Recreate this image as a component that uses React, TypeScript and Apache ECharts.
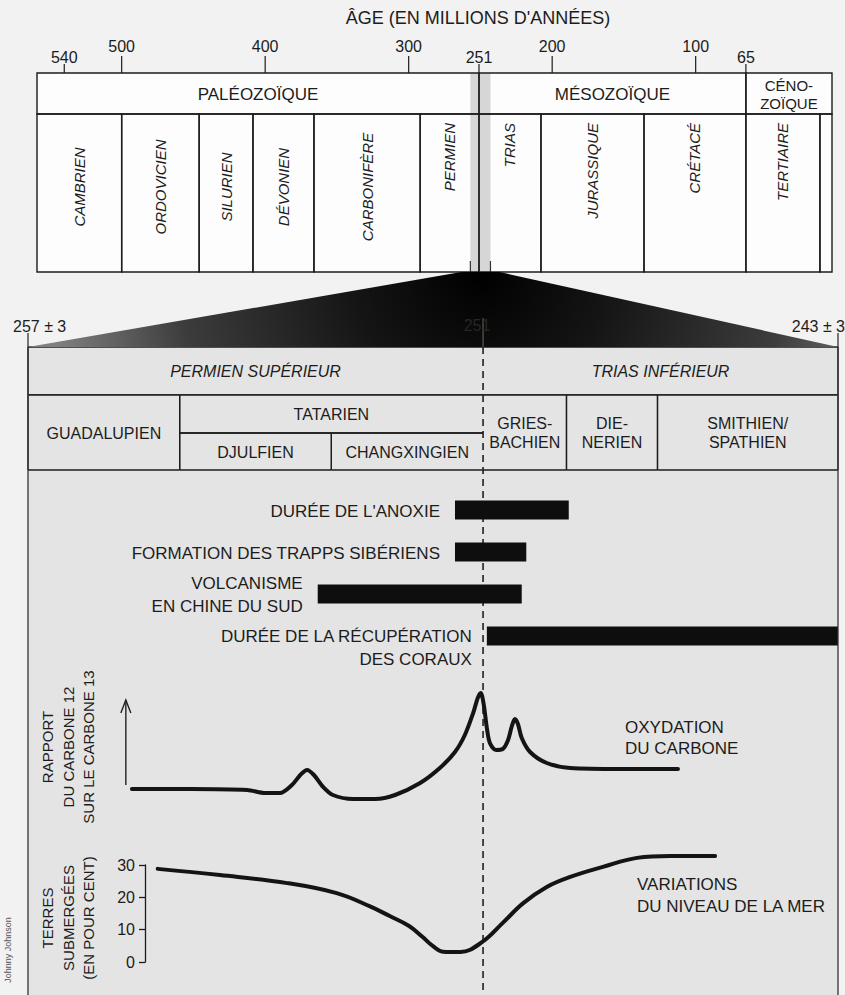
import React, { useEffect, useRef } from 'react';
import * as echarts from 'echarts';

const FONT = "'Liberation Sans', Arial, Helvetica, sans-serif";
const INK = '#1c1c1c';

// ---------- top geological time scale (ages in millions of years) ----------
const majorTicks = [500, 400, 300, 200, 100];
const minorTicks = [540, 251, 65];
const eraNames = ['PALÉOZOÏQUE', 'MÉSOZOÏQUE', 'CÉNO-\nZOÏQUE'];
const eraStart = [559, 251, 65];
const eraEnd = [251, 65, 5];
const periodNames = ['CAMBRIEN', 'ORDOVICIEN', 'SILURIEN', 'DÉVONIEN', 'CARBONIFÈRE', 'PERMIEN', 'TRIAS', 'JURASSIQUE', 'CRÉTACÉ', 'TERTIAIRE', ''];
const periodStart = [559, 500, 446, 408.5, 366, 292, 251, 207.8, 136, 65, 13.4];
const periodEnd = [500, 446, 408.5, 366, 292, 251, 207.8, 136, 65, 13.4, 5];
const zoomWindow = [257, 243];

// ---------- zoomed Permian / Triassic interval ----------
const stageNames = ['PERMIEN SUPÉRIEUR', 'TRIAS INFÉRIEUR', 'GUADALUPIEN', 'TATARIEN', 'DJULFIEN', 'CHANGXINGIEN', 'GRIES-\nBACHIEN', 'DIE-\nNERIEN', 'SMITHIEN/\nSPATHIEN'];
const stageStart = [257, 251, 257, 255, 255, 253, 251, 249.9, 248.7];
const stageEnd = [251, 246.32, 255, 251, 253, 251, 249.9, 248.7, 246.32];
const stageRow = [0, 0, 1, 2, 3, 3, 1, 1, 1];
const boundaryAge = 251;

const barLabels = ["DURÉE DE L'ANOXIE", 'FORMATION DES TRAPPS SIBÉRIENS', 'VOLCANISME\nEN CHINE DU SUD', 'DURÉE DE LA RÉCUPÉRATION\nDES CORAUX'];
const barStart = [251.37, 251.37, 253.18, 250.95];
const barEnd = [249.87, 250.43, 250.49, 246.32];

const carbonAge = [255.63, 254.86, 254.11, 253.87, 253.68, 253.52, 253.41, 253.32, 253.23, 253.12, 252.98, 252.71, 252.42, 252.16, 251.83, 251.57, 251.37, 251.24, 251.13, 251.07, 251.03, 250.99, 250.95, 250.91, 250.83, 250.74, 250.67, 250.62, 250.58, 250.54, 250.49, 250.38, 250.16, 249.85, 249.19, 248.43];
const carbonValue = [2.1, 2.1, 2.0, 1.7, 1.7, 2.5, 3.5, 4.0, 3.5, 2.4, 1.5, 1.1, 1.1, 1.5, 2.7, 4.2, 5.8, 7.5, 9.7, 11.2, 11.7, 10.5, 8.2, 6.7, 6.0, 6.1, 7.0, 8.4, 9.1, 8.6, 7.2, 5.8, 4.7, 4.2, 4.1, 4.1];

const seaAge = [255.29, 254.47, 253.58, 252.93, 252.49, 252.23, 251.98, 251.80, 251.66, 251.53, 251.30, 251.01, 250.74, 250.47, 250.16, 249.85, 249.42, 248.97, 248.53, 247.94];
const seaValue = [28.8, 26.9, 24.4, 21.3, 17.2, 14.2, 11.2, 7.8, 4.9, 3.2, 3.1, 6.2, 12.1, 18.2, 23.2, 26.3, 29.4, 32.2, 32.8, 32.8];
const seaTickMax = 30;
const seaTickStep = 10;

const TOP_MIN = 5, TOP_MAX = 559;
const LOW_MIN = 246.32, LOW_MAX = 257;
const carbonAxisAge = 255.71;
const carbonArrow = [2.5, 11];

const ERA_SPLIT = 0.794;
const ROWS = [[0, 0.39], [0.39, 1], [0.39, 0.699], [0.699, 1]];

const txt = (size: number, extra: any = {}) => ({ fontSize: size, fontFamily: FONT, fill: INK, ...extra });

export default function App() {
  const ref = useRef<HTMLDivElement>(null);
  useEffect(() => {
    document.body.style.margin = '0';
    const chart = echarts.init(ref.current!, null, { renderer: 'svg' });
    const lowX = (gridIndex: number) => ({ gridIndex, type: 'value', min: LOW_MIN, max: LOW_MAX, inverse: true, show: false });

    const option: any = {
      animation: false,
      backgroundColor: '#f2f2f2',
      grid: [
        { left: 37, top: 73, width: 795, height: 199 },
        { left: 28, top: 347, width: 810, height: 123 },
        { left: 28, top: 489, width: 810, height: 168 },
        { left: 28, top: 690, width: 810, height: 120 },
        { left: 28, top: 865, width: 810, height: 97 },
      ],
      xAxis: [
        {
          gridIndex: 0, type: 'value', min: TOP_MIN, max: TOP_MAX, inverse: true, position: 'top',
          axisLine: { show: false }, splitLine: { show: false }, axisTick: { show: false }, minorTick: { show: false },
          axisLabel: { customValues: majorTicks, margin: 19, fontSize: 16, fontFamily: FONT, color: INK },
        },
        {
          gridIndex: 0, type: 'value', min: TOP_MIN, max: TOP_MAX, inverse: true, position: 'top',
          axisLine: { show: false }, splitLine: { show: false }, axisTick: { show: false }, minorTick: { show: false },
          axisLabel: { customValues: minorTicks, margin: 8, fontSize: 16, fontFamily: FONT, color: INK },
        },
        lowX(1), lowX(2), lowX(3), lowX(4),
      ],
      yAxis: [
        { gridIndex: 0, type: 'value', min: 0, max: 1, show: false },
        { gridIndex: 1, type: 'value', min: 0, max: 1, inverse: true, show: false },
        { gridIndex: 2, type: 'category', data: barLabels, inverse: true, show: false },
        { gridIndex: 3, type: 'value', min: 0, max: 12, show: false },
        {
          gridIndex: 4, type: 'value', min: 0, max: seaTickMax, interval: seaTickStep, offset: -117,
          axisLine: { show: true, lineStyle: { color: INK, width: 1.3 } },
          axisTick: { show: true, length: 6, lineStyle: { color: INK, width: 1.3 } },
          axisLabel: { fontSize: 16, fontFamily: FONT, color: INK, margin: 10 },
          splitLine: { show: false },
        },
      ],
      series: [
        // eras
        {
          type: 'custom', xAxisIndex: 0, yAxisIndex: 0, z: 3,
          data: eraNames.map((_, i) => [eraStart[i], eraEnd[i]]),
          encode: { x: [0, 1] },
          renderItem: (params: any, api: any) => {
            const i = params.dataIndex;
            const a = api.coord([api.value(0), 1]);
            const b = api.coord([api.value(1), ERA_SPLIT]);
            const two = eraNames[i].indexOf('\n') >= 0;
            return {
              type: 'group', children: [
                { type: 'rect', shape: { x: a[0], y: a[1], width: b[0] - a[0], height: b[1] - a[1] }, style: { fill: 'none', stroke: INK, lineWidth: 1.4 } },
                { type: 'text', style: { text: eraNames[i], x: (a[0] + b[0]) / 2, y: (a[1] + b[1]) / 2 + 1, align: 'center', verticalAlign: 'middle', lineHeight: 18, ...txt(two ? 15 : 17) } },
              ],
            };
          },
        },
        // periods
        {
          type: 'custom', xAxisIndex: 0, yAxisIndex: 0, z: 3,
          data: periodNames.map((_, i) => [periodStart[i], periodEnd[i]]),
          encode: { x: [0, 1] },
          renderItem: (params: any, api: any) => {
            const i = params.dataIndex;
            const a = api.coord([api.value(0), ERA_SPLIT]);
            const b = api.coord([api.value(1), 0]);
            const topAligned = i >= 5;
            const ly = topAligned ? api.coord([0, 0.749])[1] : api.coord([0, 0.427])[1];
            return {
              type: 'group', children: [
                { type: 'rect', shape: { x: a[0], y: a[1], width: b[0] - a[0], height: b[1] - a[1] }, style: { fill: 'none', stroke: INK, lineWidth: 1.4 } },
                {
                  type: 'text', x: (a[0] + b[0]) / 2, y: ly, rotation: Math.PI / 2,
                  style: { text: periodNames[i], x: 0, y: 0, align: topAligned ? 'right' : 'center', verticalAlign: 'middle', ...txt(15, { fontStyle: 'italic' }) },
                },
              ],
            };
          },
        },
        // stages of the zoomed interval
        {
          type: 'custom', xAxisIndex: 2, yAxisIndex: 1, z: 3,
          data: stageNames.map((_, i) => [stageStart[i], stageEnd[i]]),
          encode: { x: [0, 1] },
          renderItem: (params: any, api: any) => {
            const i = params.dataIndex;
            const r = ROWS[stageRow[i]];
            const x0 = api.coord([api.value(0), r[0]])[0];
            const x1 = api.coord([api.value(1), r[0]])[0];
            const y0 = api.coord([api.value(0), r[0]])[1];
            const y1 = api.coord([api.value(0), r[1]])[1];
            const ls = { stroke: INK, lineWidth: 1.3 };
            const ch: any[] = [
              { type: 'line', shape: { x1: x0, y1: y0, x2: x1, y2: y0 }, style: ls },
              { type: 'line', shape: { x1: x0, y1: y1, x2: x1, y2: y1 }, style: ls },
            ];
            if (stageStart[i] !== boundaryAge) ch.push({ type: 'line', shape: { x1: x0, y1: y0, x2: x0, y2: y1 }, style: ls });
            if (stageEnd[i] !== boundaryAge) ch.push({ type: 'line', shape: { x1: x1, y1: y0, x2: x1, y2: y1 }, style: ls });
            ch.push({
              type: 'text',
              style: { text: stageNames[i], x: (x0 + x1) / 2, y: (y0 + y1) / 2 + 1, align: 'center', verticalAlign: 'middle', lineHeight: 19, ...txt(16, stageRow[i] === 0 ? { fontStyle: 'italic' } : {}) },
            });
            return { type: 'group', children: ch };
          },
        },
        // event bars
        {
          type: 'custom', xAxisIndex: 3, yAxisIndex: 2, z: 4,
          data: barLabels.map((_, i) => [barStart[i], barEnd[i], i]),
          encode: { x: [0, 1], y: 2 },
          renderItem: (params: any, api: any) => {
            const i = params.dataIndex;
            const s = api.coord([api.value(0), api.value(2)]);
            const e = api.coord([api.value(1), api.value(2)]);
            const h = 19;
            const hangs = i === barLabels.length - 1;
            return {
              type: 'group', children: [
                { type: 'rect', shape: { x: s[0], y: s[1] - h / 2, width: e[0] - s[0], height: h }, style: { fill: '#0e0e0e' } },
                {
                  type: 'text',
                  style: { text: barLabels[i], x: s[0] - 15, y: hangs ? s[1] - 11 : s[1] + 1, align: 'right', verticalAlign: hangs ? 'top' : 'middle', lineHeight: 23, ...txt(17) },
                },
              ],
            };
          },
        },
        // carbon isotope curve
        {
          type: 'line', xAxisIndex: 4, yAxisIndex: 3, z: 5,
          data: carbonAge.map((a, i) => [a, carbonValue[i]]),
          smooth: 0.3, showSymbol: false, clip: false,
          lineStyle: { color: '#141414', width: 4, cap: 'round' },
        },
        // sea level curve
        {
          type: 'line', xAxisIndex: 5, yAxisIndex: 4, z: 5,
          data: seaAge.map((a, i) => [a, seaValue[i]]),
          smooth: 0.4, showSymbol: false, clip: false,
          lineStyle: { color: '#141414', width: 4, cap: 'round' },
        },
      ],
    };
    chart.setOption(option);

    const px = (axis: number, v: number) => chart.convertToPixel({ xAxisIndex: axis } as any, v) as unknown as number;
    const py = (axis: number, v: number) => chart.convertToPixel({ yAxisIndex: axis } as any, v) as unknown as number;

    const topL = px(0, TOP_MAX), topR = px(0, TOP_MIN);
    const boxTop = py(0, 1), boxBot = py(0, 0);
    const bandL = px(0, zoomWindow[0]), bandR = px(0, zoomWindow[1]);
    const lowL = px(2, LOW_MAX), lowR = px(2, LOW_MIN);
    const lowTop = py(1, 0);
    const xB = px(2, boundaryAge);
    const arrowX = px(4, carbonAxisAge);
    const arrowY0 = py(3, carbonArrow[0]);
    const arrowY1 = py(3, carbonArrow[1]);

    const tickEls: any[] = [
      ...majorTicks.map((v) => ({ type: 'line', z: 8, shape: { x1: px(0, v), y1: boxTop - 17, x2: px(0, v), y2: boxTop }, style: { stroke: INK, lineWidth: 1.2 } })),
      ...minorTicks.map((v) => ({ type: 'line', z: 8, shape: { x1: px(0, v), y1: boxTop - 9, x2: px(0, v), y2: boxTop }, style: { stroke: INK, lineWidth: 1.2 } })),
    ];

    const elements: any[] = [
      { type: 'rect', z: 0, shape: { x: lowL, y: lowTop, width: lowR - lowL, height: 995 - lowTop }, style: { fill: '#e4e4e4' } },
      { type: 'rect', z: 0, shape: { x: topL, y: boxTop, width: topR - topL, height: boxBot - boxTop }, style: { fill: '#fdfdfd' } },
      { type: 'rect', z: 1, shape: { x: bandL, y: boxTop, width: bandR - bandL, height: boxBot - boxTop }, style: { fill: '#d6d6d6' } },
      { type: 'line', z: 1, shape: { x1: bandL, y1: boxBot - 11, x2: bandL, y2: boxBot }, style: { stroke: '#333', lineWidth: 1.2 } },
      { type: 'line', z: 1, shape: { x1: bandR, y1: boxBot - 11, x2: bandR, y2: boxBot }, style: { stroke: '#333', lineWidth: 1.2 } },
      ...tickEls,
      {
        type: 'polygon', z: 6,
        shape: { points: [[bandL - 9, boxBot], [bandR + 9, boxBot], [lowR, lowTop], [lowL, lowTop]] },
        style: {
          fill: new (echarts.graphic as any).RadialGradient((bandL + bandR) / 2, boxBot, 430, [
            { offset: 0, color: '#000' }, { offset: 0.3, color: '#151515' }, { offset: 0.7, color: '#3c3c3c' }, { offset: 1, color: '#808080' },
          ], true),
        },
      },
      { type: 'line', z: 7, shape: { x1: xB, y1: 318, x2: xB, y2: lowTop }, style: { stroke: '#6a6a6a', lineWidth: 1 } },
      { type: 'line', z: 1, shape: { x1: xB, y1: lowTop, x2: xB, y2: 995 }, style: { stroke: '#222', lineWidth: 1.6, lineDash: [7, 5] } },
      { type: 'line', z: 7, shape: { x1: lowL, y1: 333, x2: lowL, y2: 995 }, style: { stroke: '#333', lineWidth: 1.3 } },
      { type: 'line', z: 7, shape: { x1: lowR, y1: 333, x2: lowR, y2: 995 }, style: { stroke: '#333', lineWidth: 1.3 } },
      { type: 'text', z: 8, style: { text: 'ÂGE (EN MILLIONS D\'ANNÉES)', x: 478, y: 18, align: 'center', verticalAlign: 'middle', ...txt(18) } },
      { type: 'text', z: 8, style: { text: '257 ± 3', x: 13, y: 326, align: 'left', verticalAlign: 'middle', ...txt(16) } },
      { type: 'text', z: 8, style: { text: '243 ± 3', x: 845, y: 326, align: 'right', verticalAlign: 'middle', ...txt(16) } },
      { type: 'text', z: 8, style: { text: '251', x: xB - 6, y: 325, align: 'center', verticalAlign: 'middle', ...txt(16, { fill: '#262626' }) } },
      { type: 'line', z: 8, shape: { x1: arrowX, y1: arrowY0, x2: arrowX, y2: arrowY1 }, style: { stroke: '#222', lineWidth: 1.4 } },
      { type: 'polyline', z: 8, shape: { points: [[arrowX - 5, arrowY1 + 13], [arrowX, arrowY1], [arrowX + 5, arrowY1 + 13]] }, style: { stroke: '#222', lineWidth: 1.4, fill: 'none' } },
      {
        type: 'text', z: 8, x: 68, y: 747, rotation: Math.PI / 2,
        style: { text: 'RAPPORT\nDU CARBONE 12\nSUR LE CARBONE 13', x: 0, y: 0, align: 'center', verticalAlign: 'middle', lineHeight: 20.5, ...txt(15) },
      },
      {
        type: 'text', z: 8, x: 68, y: 918, rotation: Math.PI / 2,
        style: { text: 'TERRES\nSUBMERGÉES\n(EN POUR CENT)', x: 0, y: 0, align: 'center', verticalAlign: 'middle', lineHeight: 20.5, ...txt(15) },
      },
      {
        type: 'text', z: 8, x: 8, y: 950, rotation: Math.PI / 2,
        style: { text: 'Johnny Johnson', x: 0, y: 0, align: 'center', verticalAlign: 'middle', ...txt(9, { fill: '#555' }) },
      },
      { type: 'text', z: 8, style: { text: 'OXYDATION\nDU CARBONE', x: 625, y: 717, align: 'left', verticalAlign: 'top', lineHeight: 21, ...txt(17) } },
      { type: 'text', z: 8, style: { text: 'VARIATIONS\nDU NIVEAU DE LA MER', x: 637, y: 873, align: 'left', verticalAlign: 'top', lineHeight: 22, ...txt(17) } },
    ];
    chart.setOption({ graphic: { elements } });
    return () => chart.dispose();
  }, []);
  return <div ref={ref} style={{ width: 845, height: 995, overflow: 'hidden' }} />;
}
